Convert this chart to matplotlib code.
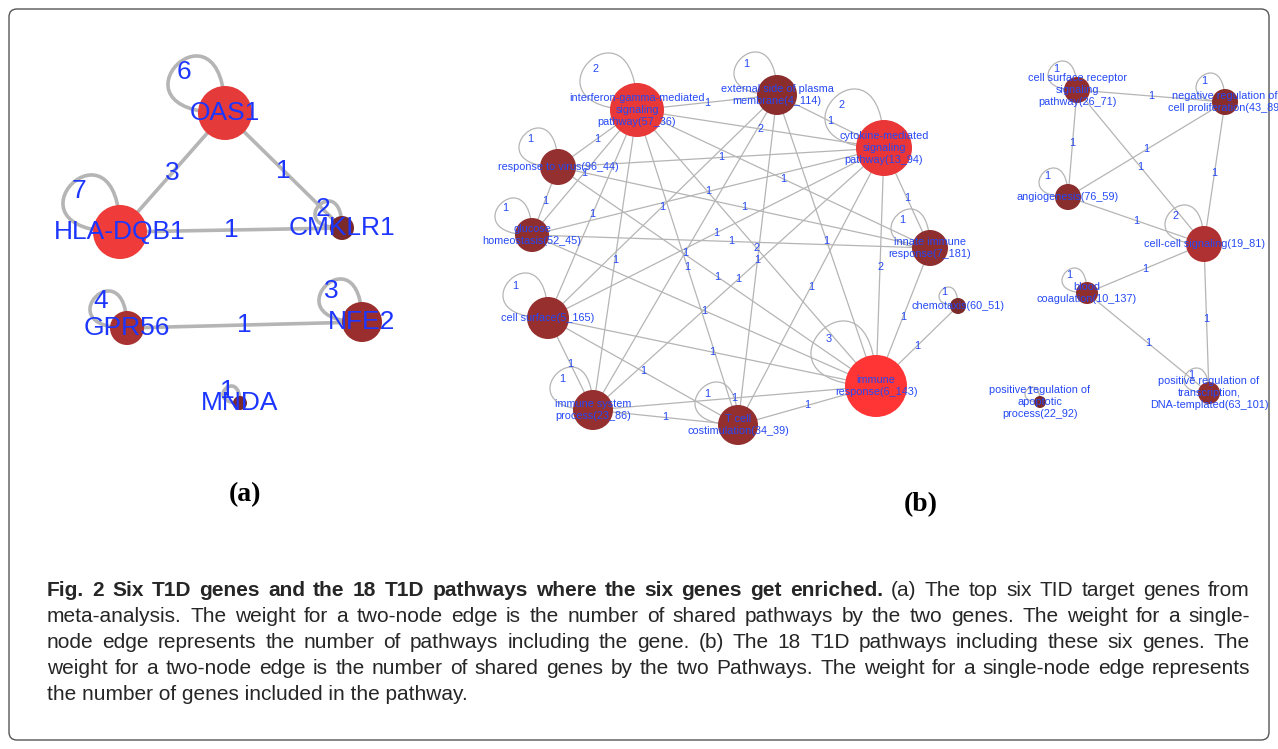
import numpy as np
import matplotlib.pyplot as plt
from matplotlib.path import Path
from matplotlib.patches import PathPatch, Circle, FancyBboxPatch

# ---- panel (a): six T1D genes ----
genes = ["OAS1", "HLA-DQB1", "CMKLR1", "GPR56", "NFE2", "MNDA"]
gene_loops = [6, 7, 2, 4, 3, 1]
gene_src = [0, 0, 1, 3]
gene_dst = [1, 2, 2, 4]
gene_w = [3, 1, 1, 1]

# ---- panel (b): 18 T1D pathways ----
pathways = [
    "interferon-gamma-mediated\nsignaling\npathway(57_36)",
    "external side of plasma\nmembrane(4_114)",
    "cytokine-mediated\nsignaling\npathway(13_94)",
    "response to virus(96_44)",
    "glucose\nhomeostasis(52_45)",
    "innate immune\nresponse(7_181)",
    "chemotaxis(60_51)",
    "cell surface(5_165)",
    "immune system\nprocess(23_86)",
    "T cell\ncostimulation(34_39)",
    "immune\nresponse(6_143)",
    "cell surface receptor\nsignaling\npathway(26_71)",
    "negative regulation of\ncell proliferation(43_89)",
    "angiogenesis(76_59)",
    "cell-cell signaling(19_81)",
    "blood\ncoagulation(10_137)",
    "positive regulation of\ntranscription,\nDNA-templated(63_101)",
    "positive regulation of\napoptotic\nprocess(22_92)",
]
path_loops = [2, 1, 2, 1, 1, 1, 1, 1, 1, 1, 3, 1, 1, 1, 2, 1, 1, 1]
path_src = [0, 1, 0, 0, 3, 3, 4, 3, 4, 4, 0, 1, 2, 0, 1, 1, 0, 3, 2, 4, 7, 7,
            0, 0, 1, 2, 2, 2, 5, 6, 7, 8, 9, 8,
            11, 11, 11, 12, 12, 13, 14, 14, 15]
path_dst = [1, 2, 2, 3, 2, 4, 0, 5, 2, 5, 7, 7, 7, 10, 9, 8, 9, 10, 8, 10, 10, 9,
            8, 5, 10, 9, 10, 5, 10, 10, 8, 10, 10, 9,
            12, 13, 14, 13, 14, 14, 15, 16, 16]
path_w = [1, 1, 2, 1, 1, 1, 1, 1, 1, 1, 1, 1, 1, 2, 1, 1, 1, 1, 1, 1, 1, 1,
          1, 1, 1, 1, 2, 1, 1, 1, 1, 1, 1, 1,
          1, 1, 1, 1, 1, 1, 1, 1, 1]

caption = [
    [("Fig. 2 Six T1D genes and the 18 T1D pathways where the six genes get enriched.", "bold"),
     ("(a) The top six TID target genes from", "normal")],
    [("meta-analysis. The weight for a two-node edge is the number of shared pathways by the two genes. The weight for a single-", "normal")],
    [("node edge represents the number of pathways including the gene. (b) The 18 T1D pathways including these six genes. The", "normal")],
    [("weight for a two-node edge is the number of shared genes by the two Pathways. The weight for a single-node edge represents", "normal")],
    [("the number of genes included in the pathway.", "normal")],
]

# ---- layout (pixel space) ----
gene_xy = [(225, 113), (120, 232), (342, 228), (127, 328), (362, 322), (240, 403)]
gene_r = [27, 27, 12, 17, 20, 7]
gene_col = ["#e53a3a", "#f03b3b", "#7a2a2a", "#a83131", "#9a2e2e", "#7a2a2a"]

path_xy = [(637, 110), (777, 95), (884, 148), (558, 167), (532, 235), (930, 248),
           (958, 306), (548, 318), (593, 410), (738, 425), (876, 386),
           (1077, 90), (1225, 102), (1068, 197), (1204, 244), (1087, 293),
           (1209, 393), (1040, 402)]
path_r = [27, 20, 28, 18, 17, 18, 8, 21, 20, 20, 31, 13, 13, 13, 18, 11, 11, 6]
path_col = ["#e83838", "#8b2d2d", "#ea3636", "#943030", "#8f2e2e", "#8f2e2e",
            "#7a2a2a", "#982f2f", "#962f2f", "#932f2f", "#ff3434", "#922e2e",
            "#882c2c", "#8a2d2d", "#b03131", "#902e2e", "#902e2e", "#7a2a2a"]

fig = plt.figure(figsize=(12.78, 7.49), dpi=100)
ax = fig.add_axes([0, 0, 1, 1])
ax.set_xlim(0, 1278)
ax.set_ylim(749, 0)
ax.axis("off")

sans = ["Liberation Sans", "DejaVu Sans"]


def loop(ax, c, r, lw, col):
    # round self-loop leaving the node upward and coming back from the left
    L = (2 * r + 3) / 0.444
    c = np.array(c, float)
    verts = [c, c + [0, -L], c + [-L, 0], c]
    codes = [Path.MOVETO, Path.CURVE4, Path.CURVE4, Path.CURVE4]
    ax.add_patch(PathPatch(Path(verts, codes), fill=False, lw=lw, ec=col, zorder=1))
    return c - 0.32 * L


def network(ax, xy, rad, cols, labels, loops, src, dst, w, lw, fs, tcol):
    for s, d, k in zip(src, dst, w):
        (x1, y1), (x2, y2) = xy[s], xy[d]
        ax.plot([x1, x2], [y1, y2], color="#b5b5b5", lw=lw, zorder=1,
                solid_capstyle="round")
        ax.text((x1 + x2) / 2, (y1 + y2) / 2, str(k), color=tcol, fontsize=fs,
                ha="center", va="center", family=sans, zorder=5)
    for i, (c, r) in enumerate(zip(xy, rad)):
        p = loop(ax, c, r, lw, "#b5b5b5")
        ax.text(p[0], p[1], str(loops[i]), color=tcol, fontsize=fs,
                ha="center", va="center", family=sans, zorder=5)
        ax.add_patch(Circle(c, r, fc=cols[i], ec="none", zorder=2))
        ax.text(c[0], c[1], labels[i], color=tcol, fontsize=fs,
                ha="center", va="center", multialignment="center",
                linespacing=1.25, family=sans, zorder=4)


network(ax, gene_xy, gene_r, gene_col, genes, gene_loops, gene_src, gene_dst,
        gene_w, 2.6, 19, "#1c36ff")
network(ax, path_xy, path_r, path_col, pathways, path_loops, path_src, path_dst,
        path_w, 0.9, 7.8, "#2448f5")

ax.text(245, 495, "(a)", fontsize=20, weight="bold", family="Liberation Serif",
        ha="center", va="center")
ax.text(921, 505, "(b)", fontsize=20, weight="bold", family="Liberation Serif",
        ha="center", va="center")

# caption, fully justified
fig.canvas.draw()
rend = fig.canvas.get_renderer()
x0, x1 = 47, 1250
ys = [596, 622, 648.5, 674.5, 700.5]
cfs = 15
for li, (segs, y) in enumerate(zip(caption, ys)):
    if li == len(caption) - 1:
        ax.text(x0, y, segs[0][0], fontsize=cfs, family=sans, va="baseline",
                ha="left", color="#262626")
        continue
    words = [(wd, wt) for txt, wt in segs for wd in txt.split()]
    ts = [ax.text(0, y, wd, fontsize=cfs, weight=wt, family=sans,
                  va="baseline", ha="left", color="#262626") for wd, wt in words]
    ws = [t.get_window_extent(renderer=rend).width for t in ts]
    gap = (x1 - x0 - sum(ws)) / (len(ws) - 1)
    x = x0
    for t, wdt in zip(ts, ws):
        t.set_x(x)
        x += wdt + gap

ax.add_patch(FancyBboxPatch((9, 9), 1260, 731, boxstyle="round,pad=0,rounding_size=8",
                            fc="none", ec="#555555", lw=1.0, zorder=0))

fig.savefig("out.png", dpi=100)
